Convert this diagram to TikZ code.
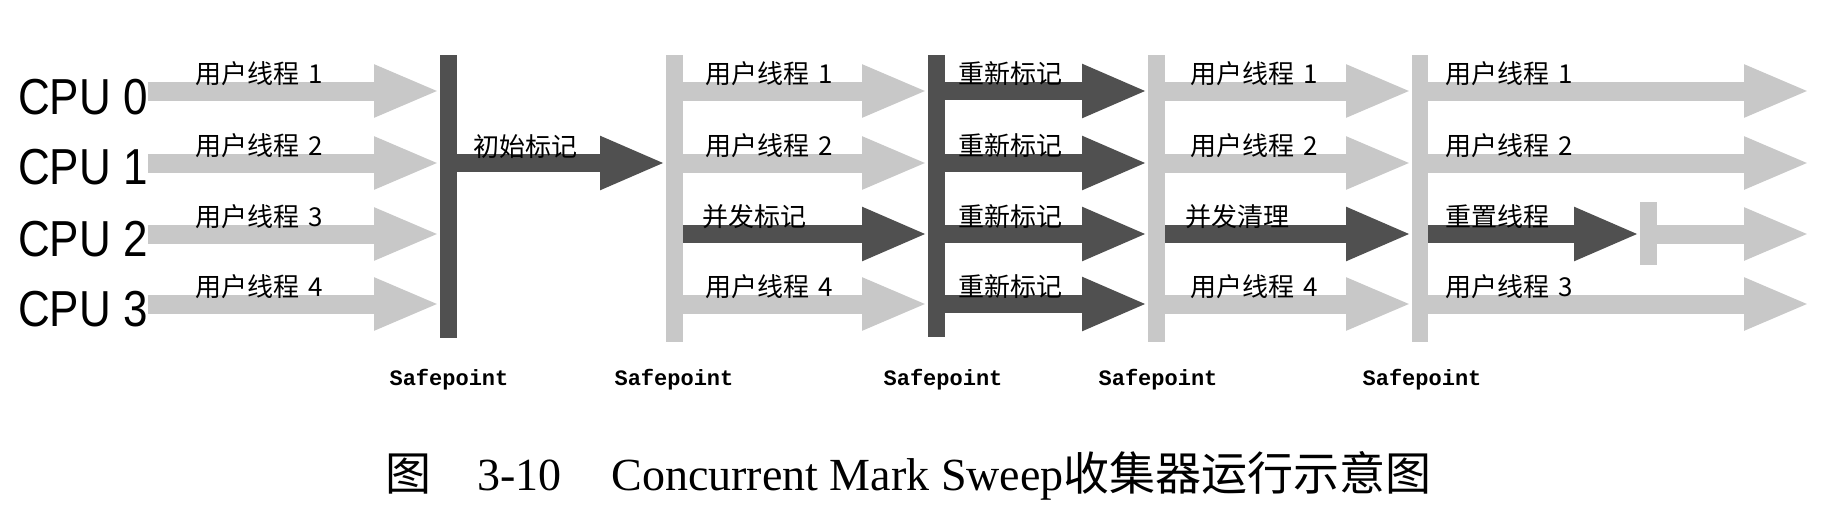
\documentclass[tikz,border=0pt]{standalone}
\usepackage{fontspec}
\usepackage{graphicx}
\setmainfont{Liberation Serif}
\newfontfamily\cjk{Noto Sans CJK SC}
\newfontfamily\cpufont{Liberation Sans}
\newfontfamily\spfont{Liberation Mono}
\usetikzlibrary{arrows.meta}
\definecolor{darkc}{HTML}{505050}
\definecolor{lightc}{HTML}{C8C8C8}
\begin{document}
\begin{tikzpicture}[x=1pt,y=-1pt,
  bar/.style={rectangle,inner sep=0pt,outer sep=0pt,minimum width=17pt,draw=none},
  darkbar/.style={bar,fill=darkc},
  lightbar/.style={bar,fill=lightc},
  lightarr/.style={draw=lightc,line width=19pt,-{Triangle[length=66pt,width=48pt]}},
  darkarr/.style={draw=darkc,line width=18pt,-{Triangle[length=66pt,width=49pt]}},
  lbl/.style={anchor=base west,inner sep=0pt,font=\cjk\fontsize{26}{26}\selectfont},
  cpu/.style={anchor=base west,inner sep=0pt,font=\cpufont\fontsize{44}{44}\selectfont},
  sp/.style={anchor=base,inner sep=0pt,font=\spfont\bfseries\fontsize{22}{22}\selectfont},
  captext/.style={anchor=base west,inner sep=0pt,font=\fontsize{46}{46}\selectfont}
]
\fill[white] (0,0) rectangle (1834,506);
\useasboundingbox (0,0) rectangle (1834,506);

% rows
\coordinate (r0) at (0,91);
\coordinate (r1) at (0,163);
\coordinate (r2) at (0,234);
\coordinate (r3) at (0,304);
% final tips
\coordinate (e0) at (1810,91);
\coordinate (e1) at (1810,163);
\coordinate (e2) at (1810,234);
\coordinate (e3) at (1810,304);

% CPU labels
\node[cpu] (cpu0) at (18,114) {\scalebox{1}[1.15]{CPU 0}};
\node[cpu] (cpu1) at (18,184) {\scalebox{1}[1.15]{CPU 1}};
\node[cpu] (cpu2) at (18,256) {\scalebox{1}[1.15]{CPU 2}};
\node[cpu] (cpu3) at (18,326) {\scalebox{1}[1.15]{CPU 3}};

% bars
\node[darkbar,minimum height=283pt] (b1) at (448.5,196.5) {};
\node[lightbar,minimum height=287pt] (b2) at (674.5,198.5) {};
\node[darkbar,minimum height=282pt] (b3) at (936.5,196) {};
\node[lightbar,minimum height=287pt] (b4) at (1156.5,198.5) {};
\node[lightbar,minimum height=287pt,minimum width=16pt] (b5) at (1420,198.5) {};
\node[lightbar,minimum height=63pt] (b6) at (1648.5,233.5) {};

% segment 1
\draw[lightarr] (cpu0.east |- r0) -- (b1.west |- r0);
\draw[lightarr] (cpu1.east |- r1) -- (b1.west |- r1);
\draw[lightarr] (cpu2.east |- r2) -- (b1.west |- r2);
\draw[lightarr] (cpu3.east |- r3) -- (b1.west |- r3);
% segment 2
\draw[darkarr] (b1.east |- r1) -- (b2.west |- r1);
% segment 3
\draw[lightarr] (b2.east |- r0) -- (b3.west |- r0);
\draw[lightarr] (b2.east |- r1) -- (b3.west |- r1);
\draw[darkarr] (b2.east |- r2) -- (b3.west |- r2);
\draw[lightarr] (b2.east |- r3) -- (b3.west |- r3);
% segment 4
\draw[darkarr] (b3.east |- r0) -- (b4.west |- r0);
\draw[darkarr] (b3.east |- r1) -- (b4.west |- r1);
\draw[darkarr] (b3.east |- r2) -- (b4.west |- r2);
\draw[darkarr] (b3.east |- r3) -- (b4.west |- r3);
% segment 5
\draw[lightarr] (b4.east |- r0) -- (b5.west |- r0);
\draw[lightarr] (b4.east |- r1) -- (b5.west |- r1);
\draw[darkarr] (b4.east |- r2) -- (b5.west |- r2);
\draw[lightarr] (b4.east |- r3) -- (b5.west |- r3);
% segment 6
\draw[lightarr] (b5.east |- r0) -- (e0);
\draw[lightarr] (b5.east |- r1) -- (e1);
\draw[darkarr] (b5.east |- r2) -- (b6.west |- r2);
\draw[lightarr] (b6.east |- r2) -- (e2);
\draw[lightarr] (b5.east |- r3) -- (e3);

% labels
\node[lbl] (l10) at (195,83) {用户线程\hspace{9pt}1};
\node[lbl] (l11) at (195,155) {用户线程\hspace{9pt}2};
\node[lbl] (l12) at (195,226) {用户线程\hspace{9pt}3};
\node[lbl] (l13) at (195,296) {用户线程\hspace{9pt}4};
\node[lbl] (l2) at (473,156) {初始标记};
\node[lbl] (l30) at (705,83) {用户线程\hspace{9pt}1};
\node[lbl] (l31) at (705,155) {用户线程\hspace{9pt}2};
\node[lbl] (l32) at (702,226) {并发标记};
\node[lbl] (l33) at (705,296) {用户线程\hspace{9pt}4};
\node[lbl] (l40) at (958,83) {重新标记};
\node[lbl] (l41) at (958,155) {重新标记};
\node[lbl] (l42) at (958,226) {重新标记};
\node[lbl] (l43) at (958,296) {重新标记};
\node[lbl] (l50) at (1190,83) {用户线程\hspace{9pt}1};
\node[lbl] (l51) at (1190,155) {用户线程\hspace{9pt}2};
\node[lbl] (l52) at (1185,226) {并发清理};
\node[lbl] (l53) at (1190,296) {用户线程\hspace{9pt}4};
\node[lbl] (l60) at (1445,83) {用户线程\hspace{9pt}1};
\node[lbl] (l61) at (1445,155) {用户线程\hspace{9pt}2};
\node[lbl] (l62) at (1445,226) {重置线程};
\node[lbl] (l63) at (1445,296) {用户线程\hspace{9pt}3};

% safepoints
\node[sp] (s1) at (449,385) {Safepoint};
\node[sp] (s2) at (674,385) {Safepoint};
\node[sp] (s3) at (943,385) {Safepoint};
\node[sp] (s4) at (1158,385) {Safepoint};
\node[sp] (s5) at (1422,385) {Safepoint};

% caption
\node[captext] (caption) at (385,490) {{\cjk 图}\hspace{46pt}3-10\hspace{50pt}Concurrent Mark Sweep{\cjk 收集器运行示意图}};
\end{tikzpicture}
\end{document}
